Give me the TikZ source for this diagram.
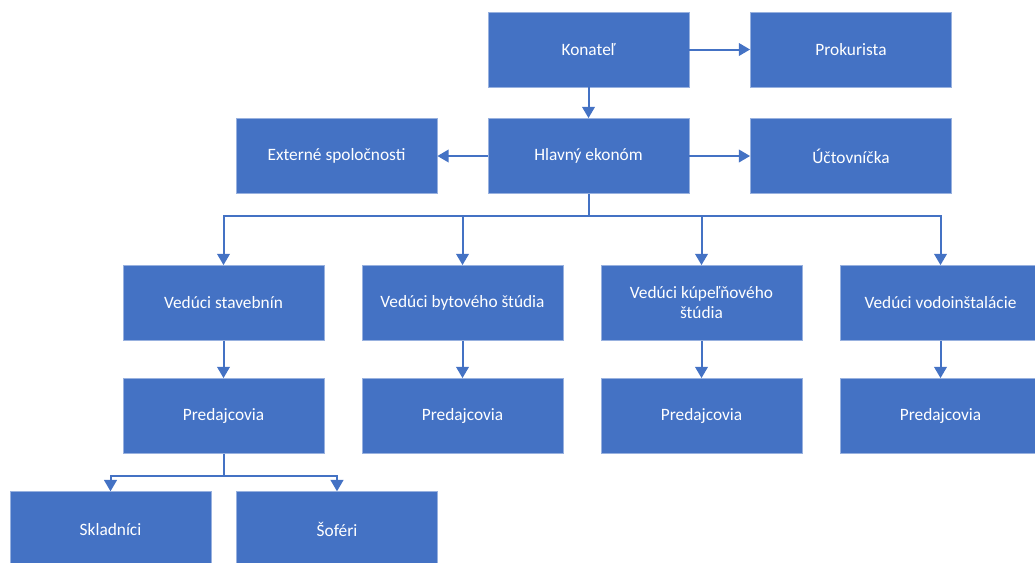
\documentclass[tikz,border=0pt]{standalone}
\usepackage{fontspec}
\setmainfont{Carlito}
\usetikzlibrary{arrows.meta,positioning}
\definecolor{boxblue}{HTML}{4472C4}
\tikzset{
  box/.style={fill=boxblue, draw=boxblue!55!white, line width=0.6pt,
    minimum width=150.75pt, minimum height=56.25pt, inner sep=0pt,
    text=white, align=center, font=\fontsize{13}{15}\selectfont},
  link/.style={draw=boxblue, line width=1.5pt},
  arr/.style={link, -{Triangle[width=9.5pt,length=8.5pt]}}
}

\begin{document}
\begin{tikzpicture}[x=0.75pt, y=-0.75pt]
\useasboundingbox (0,0) rectangle (1035,562);
\clip (0,0) rectangle (1035,562);
% vedenie
\node[box] (kon) at (588.5,49.5) {Konateľ};
\node[box] (prok) at (851,49.5) {Prokurista};
\node[box] (ext) at (336.5,156) {Externé spoločnosti};
\node[box] (hl) at (588.5,156) {Hlavný ekonóm};
\node[box] (uct) at (851,156) {Účtovníčka};
% vedúci a predajcovia
\foreach \i/\x/\t in {1/223.5/{Vedúci stavebnín}, 2/462.5/{Vedúci bytového štúdia},
  3/701.5/{Vedúci kúpeľňového\\štúdia}, 4/940.5/{Vedúci vodoinštalácie}} {
  \node[box] (ved\i) at (\x,303) {\t};
  \node[box] (pre\i) at (\x,416) {Predajcovia};
}
% sklad
\node[box] (skl) at (110.5,529.2) {Skladníci};
\node[box] (sof) at (337,529.2) {Šoféri};
% spojnice
\draw[arr] (kon) -- (prok);
\draw[arr] (kon) -- (hl);
\draw[arr] (hl) -- (ext);
\draw[arr] (hl) -- (uct);
\coordinate (hsplit) at (588.5,216);
\draw[link] (hl.south) -- (hsplit);
\foreach \i in {1,...,4} {
  \draw[arr] (hsplit) -| (ved\i.north);
  \draw[arr] (ved\i) -- (pre\i);
}
\coordinate (psplit) at (223.5,475.7);
\draw[link] (pre1.south) -- (psplit);
\draw[arr] (psplit) -| (skl.north);
\draw[arr] (psplit) -| (sof.north);
\end{tikzpicture}
\end{document}
